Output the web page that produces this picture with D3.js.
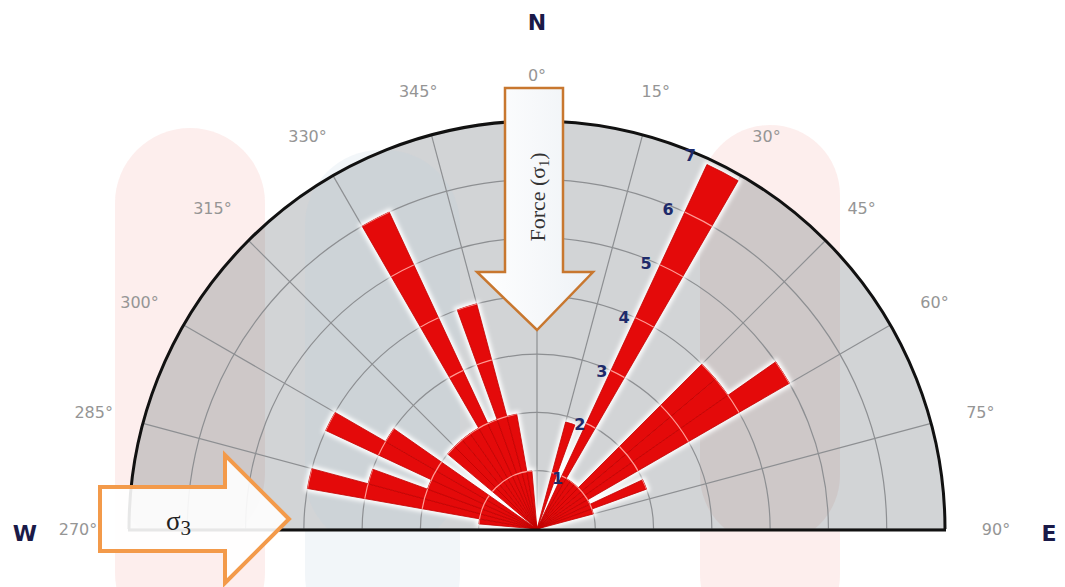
<!DOCTYPE html>
<html>
<head>
<meta charset="utf-8">
<script src="https://cdn.jsdelivr.net/npm/d3@7"></script>
<style>
  body { margin: 0; background: #fff; }
  svg { display: block; }
</style>
</head>
<body>
<div id="chart"></div>
<script>
// rose diagram: 5 degree bins, bearing of bin start (degrees) and frequency
var binStart = [275, 280, 285, 290, 295, 300, 310, 315, 320, 325, 330, 335, 340, 345, 350,
                15, 25, 30, 35, 40, 45, 50, 55, 60, 65, 70];
var freq     = [1.0, 4.0, 3.0, 2.0, 4.0, 3.0, 2.0, 2.0, 2.0, 2.0, 6.0, 2.0, 4.0, 2.0, 1.0,
                1.9, 6.9, 1.0, 1.0, 1.0, 4.0, 4.0, 5.0, 1.0, 2.0, 1.0];
var binWidth = 5;

var angleTicks = [270, 285, 300, 315, 330, 345, 0, 15, 30, 45, 60, 75, 90];
var ringTicks = [1, 2, 3, 4, 5, 6, 7];
var compass = [{t: "N", a: 0}, {t: "E", a: 90}, {t: "W", a: 270}];

var width = 1065, height = 587;
var cx = 537, cy = 529;
var R = 408;

var svg = d3.select("#chart").append("svg")
    .attr("width", width)
    .attr("height", height);

var defs = svg.append("defs");
defs.append("filter").attr("id", "glow")
    .attr("x", "-20%").attr("y", "-20%").attr("width", "140%").attr("height", "140%")
  .append("feGaussianBlur").attr("stdDeviation", 2);

var fillGrad = defs.append("radialGradient").attr("id", "bg")
    .attr("gradientUnits", "userSpaceOnUse")
    .attr("cx", cx).attr("cy", cy).attr("r", R);
fillGrad.append("stop").attr("offset", "0%").attr("stop-color", "#e2e4e6");
fillGrad.append("stop").attr("offset", "100%").attr("stop-color", "#d2d4d6");

var arrowGrad = defs.append("linearGradient").attr("id", "arrowFill")
    .attr("x1", 0).attr("y1", 0).attr("x2", 1).attr("y2", 0);
arrowGrad.append("stop").attr("offset", "0%").attr("stop-color", "#ffffff");
arrowGrad.append("stop").attr("offset", "100%").attr("stop-color", "#eef2f6");

var deg = Math.PI / 180;
var r = d3.scaleLinear().domain([0, 7]).range([0, R]);

// signed bearing, so the west half stays continuous with the east half
function signed(a) { return a > 180 ? a - 360 : a; }

// faded watermark shapes behind everything
var wm = svg.append("g").attr("class", "watermark");
wm.append("rect").attr("x", 115).attr("y", 128).attr("width", 150).attr("height", 520)
    .attr("rx", 75).attr("fill", "#fbe3e1").attr("opacity", 0.6);
wm.append("rect").attr("x", 305).attr("y", 150).attr("width", 155).attr("height", 500)
    .attr("rx", 75).attr("fill", "#e6eef4").attr("opacity", 0.5);
wm.append("rect").attr("x", 700).attr("y", 125).attr("width", 140).attr("height", 520)
    .attr("rx", 70).attr("fill", "#fbe3e1").attr("opacity", 0.6);

var g = svg.append("g").attr("transform", "translate(" + cx + "," + cy + ")");

// background half disc
var half = d3.arc().innerRadius(0).outerRadius(R)
    .startAngle(-90 * deg).endAngle(90 * deg);
g.append("path").attr("d", half()).attr("fill", "url(#bg)");

// watermark tint inside the disc
var discClip = defs.append("clipPath").attr("id", "discClip");
discClip.append("path").attr("d", half()).attr("transform", "translate(" + cx + "," + cy + ")");
var tint = svg.append("g").attr("clip-path", "url(#discClip)");
tint.append("rect").attr("x", 115).attr("y", 128).attr("width", 150).attr("height", 420)
    .attr("rx", 75).attr("fill", "#c9b3b0").attr("opacity", 0.35);
tint.append("rect").attr("x", 305).attr("y", 150).attr("width", 155).attr("height", 400)
    .attr("rx", 75).attr("fill", "#c3d0db").attr("opacity", 0.3);
tint.append("rect").attr("x", 700).attr("y", 125).attr("width", 140).attr("height", 420)
    .attr("rx", 70).attr("fill", "#c9b3b0").attr("opacity", 0.35);

var grid = svg.append("g").attr("transform", "translate(" + cx + "," + cy + ")");

// grid rings
var ringArc = d3.arc().innerRadius(function(d) { return r(d); })
    .outerRadius(function(d) { return r(d); })
    .startAngle(-90 * deg).endAngle(90 * deg);

grid.selectAll(".ring")
    .data(ringTicks.slice(0, -1))
    .enter().append("path")
    .attr("class", "ring")
    .attr("d", ringArc)
    .attr("fill", "none")
    .attr("stroke", "#8d8f92")
    .attr("stroke-width", 1.2);

// radial grid lines
grid.selectAll(".spoke")
    .data(angleTicks)
    .enter().append("line")
    .attr("class", "spoke")
    .attr("x1", 0).attr("y1", 0)
    .attr("x2", function(d) { return R * Math.sin(signed(d) * deg); })
    .attr("y2", function(d) { return -R * Math.cos(signed(d) * deg); })
    .attr("stroke", "#8d8f92")
    .attr("stroke-width", 1.2);

// petals
var petals = binStart.map(function(b, i) { return {a: signed(b), v: freq[i]}; });
var petalArc = d3.arc()
    .innerRadius(0)
    .outerRadius(function(d) { return r(d.v); })
    .startAngle(function(d) { return d.a * deg; })
    .endAngle(function(d) { return (d.a + binWidth) * deg; });

var pg = svg.append("g").attr("transform", "translate(" + cx + "," + cy + ")");

pg.append("g").attr("filter", "url(#glow)")
  .selectAll("path")
    .data(petals)
    .enter().append("path")
    .attr("d", petalArc)
    .attr("fill", "#ffffff")
    .attr("stroke", "#ffffff")
    .attr("stroke-width", 6);

pg.selectAll(".petal")
    .data(petals)
    .enter().append("path")
    .attr("class", "petal")
    .attr("d", petalArc)
    .attr("fill", "#e40a0a")
    .attr("stroke", "#c20000")
    .attr("stroke-width", 0.8);

// light ring lines drawn across the petals
var clip = defs.append("clipPath").attr("id", "petalClip");
clip.selectAll("path").data(petals).enter().append("path").attr("d", petalArc);

pg.append("g").attr("clip-path", "url(#petalClip)")
  .selectAll("path")
    .data(ringTicks)
    .enter().append("path")
    .attr("d", ringArc)
    .attr("fill", "none")
    .attr("stroke", "#ff9a94")
    .attr("stroke-width", 1.2);

// outer rim and base line
pg.append("path")
    .attr("d", ringArc(7))
    .attr("fill", "none")
    .attr("stroke", "#111")
    .attr("stroke-width", 3);
pg.append("line")
    .attr("x1", -R - 1).attr("x2", R + 1)
    .attr("y1", 1).attr("y2", 1)
    .attr("stroke", "#111")
    .attr("stroke-width", 3);

// ring labels
pg.selectAll(".ringLabel")
    .data(ringTicks)
    .enter().append("text")
    .attr("class", "ringLabel")
    .attr("x", function(d) { return (r(d) - 4) * Math.sin(22.3 * deg); })
    .attr("y", function(d) { return -(r(d) - 4) * Math.cos(22.3 * deg); })
    .attr("dy", "0.35em")
    .attr("text-anchor", "middle")
    .attr("font-family", "DejaVu Sans, sans-serif")
    .attr("font-weight", "bold")
    .attr("font-size", 16)
    .attr("fill", "#1e2a6a")
    .text(function(d) { return d; });

// angle labels
pg.selectAll(".angleLabel")
    .data(angleTicks)
    .enter().append("text")
    .attr("class", "angleLabel")
    .attr("x", function(d) { return 459 * Math.sin(signed(d) * deg); })
    .attr("y", function(d) { return -454 * Math.cos(signed(d) * deg); })
    .attr("dy", "0.4em")
    .attr("text-anchor", "middle")
    .attr("font-family", "DejaVu Sans, sans-serif")
    .attr("font-size", 16)
    .attr("fill", "#959595")
    .text(function(d) { return d + "°"; });

// compass letters
pg.selectAll(".compass")
    .data(compass)
    .enter().append("text")
    .attr("class", "compass")
    .attr("x", function(d) { return 512 * Math.sin(signed(d.a) * deg); })
    .attr("y", function(d) { return -507 * Math.cos(signed(d.a) * deg); })
    .attr("dy", function(d) { return d.a === 0 ? "0.35em" : "0.55em"; })
    .attr("text-anchor", "middle")
    .attr("font-family", "DejaVu Sans, sans-serif")
    .attr("font-weight", "bold")
    .attr("font-size", 22)
    .attr("fill", "#1a1a48")
    .text(function(d) { return d.t; });

// force arrow (sigma 1), pointing down
var down = [[505, 88], [563, 88], [563, 272], [593, 272], [537, 330], [477, 272], [505, 272]];
svg.append("path")
    .attr("d", d3.line()(down) + "Z")
    .attr("fill", "url(#arrowFill)")
    .attr("stroke", "#c8772f")
    .attr("stroke-width", 2.5)
    .attr("stroke-linejoin", "miter");

var ft = svg.append("text")
    .attr("transform", "translate(545,197) rotate(-90)")
    .attr("text-anchor", "middle")
    .attr("font-family", "Liberation Serif, serif")
    .attr("font-size", 22)
    .attr("fill", "#333");
ft.append("tspan").text("Force (σ");
ft.append("tspan").attr("font-size", 14).attr("dy", 4).text("1");
ft.append("tspan").attr("dy", -4).text(")");

// sigma 3 arrow, pointing right
var right = [[100, 487], [225, 487], [225, 455], [289, 519], [225, 583], [225, 551], [100, 551]];
svg.append("path")
    .attr("d", d3.line()(right) + "Z")
    .attr("fill", "#ffffff")
    .attr("fill-opacity", 0.9)
    .attr("stroke", "#f39a4a")
    .attr("stroke-width", 4)
    .attr("stroke-linejoin", "miter");

var st = svg.append("text")
    .attr("x", 166).attr("y", 530)
    .attr("font-family", "Liberation Serif, serif")
    .attr("font-size", 27)
    .attr("fill", "#222");
st.append("tspan").text("σ");
st.append("tspan").attr("font-size", 21).attr("dy", 5).text("3");
</script>
</body>
</html>
